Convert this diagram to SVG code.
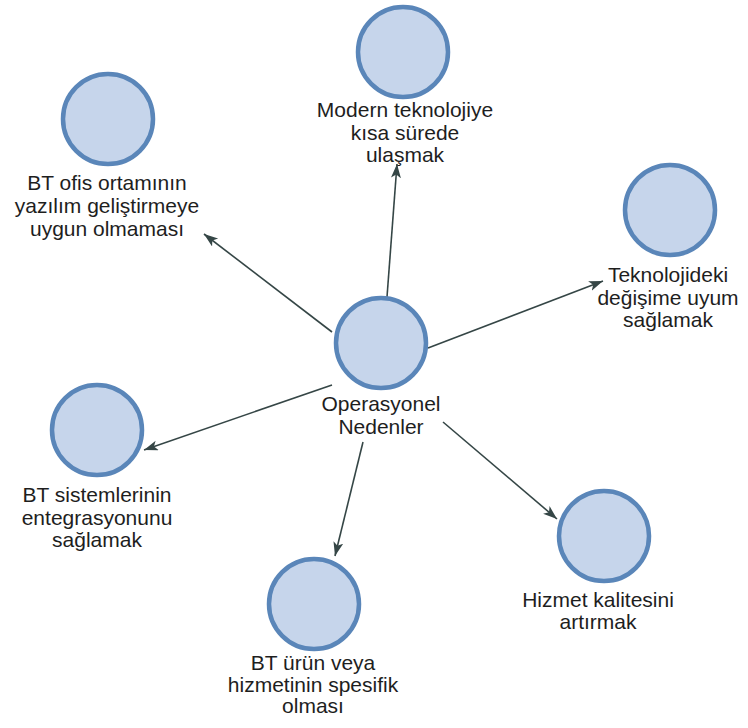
<svg xmlns="http://www.w3.org/2000/svg" width="748" height="728" viewBox="0 0 748 728">
  <style>
    .node circle { fill: #c6d5eb; stroke: #5a86b9; stroke-width: 4.5; }
    .node text { font-family: "Liberation Sans", Arial, sans-serif; font-size: 21px; fill: #1e1e1e; text-anchor: middle; }
    .edge { stroke: #354646; stroke-width: 1.6; fill: none; marker-end: url(#arrow); }
  </style>
  <defs>
    <marker id="arrow" markerUnits="userSpaceOnUse" markerWidth="16" markerHeight="12" refX="14" refY="5" orient="auto">
      <path d="M0,0 L14,5 L0,10 L3.5,5 z" fill="#354646"/>
    </marker>
  </defs>
  <rect width="748" height="728" fill="#ffffff"/>

  <!-- arrows from the central node out to each reason -->
  <g id="connectors">
    <line class="edge" x1="387" y1="297" x2="397" y2="164"/>
    <line class="edge" x1="332" y1="332" x2="204" y2="234"/>
    <line class="edge" x1="428" y1="348" x2="603" y2="281"/>
    <line class="edge" x1="332" y1="385" x2="144" y2="450"/>
    <line class="edge" x1="363" y1="442" x2="335" y2="556"/>
    <line class="edge" x1="443" y1="422" x2="557" y2="519"/>
  </g>

  <g id="operasyonel-nedenler" class="node">
    <circle cx="381" cy="343" r="45"/>
    <text x="381" y="411">Operasyonel</text>
    <text x="381" y="434">Nedenler</text>
  </g>

  <g id="modern-teknoloji" class="node">
    <circle cx="403" cy="52" r="45"/>
    <text x="405" y="117">Modern teknolojiye</text>
    <text x="405" y="139.5">kısa sürede</text>
    <text x="405" y="162">ulaşmak</text>
  </g>

  <g id="bt-ofis" class="node">
    <circle cx="108" cy="119" r="45"/>
    <text x="107" y="190">BT ofis ortamının</text>
    <text x="107" y="213">yazılım geliştirmeye</text>
    <text x="107" y="236">uygun olmaması</text>
  </g>

  <g id="teknolojideki-degisim" class="node">
    <circle cx="670" cy="210" r="45"/>
    <text x="668" y="282">Teknolojideki</text>
    <text x="668" y="305">değişime uyum</text>
    <text x="668" y="327">sağlamak</text>
  </g>

  <g id="bt-sistemleri" class="node">
    <circle cx="97" cy="430" r="45"/>
    <text x="97" y="502">BT sistemlerinin</text>
    <text x="97" y="525">entegrasyonunu</text>
    <text x="97" y="547">sağlamak</text>
  </g>

  <g id="bt-urun" class="node">
    <circle cx="314" cy="604" r="45"/>
    <text x="313" y="670">BT ürün veya</text>
    <text x="313" y="692">hizmetinin spesifik</text>
    <text x="313" y="713">olması</text>
  </g>

  <g id="hizmet-kalitesi" class="node">
    <circle cx="604" cy="536" r="45"/>
    <text x="598" y="607">Hizmet kalitesini</text>
    <text x="598" y="629">artırmak</text>
  </g>
</svg>
